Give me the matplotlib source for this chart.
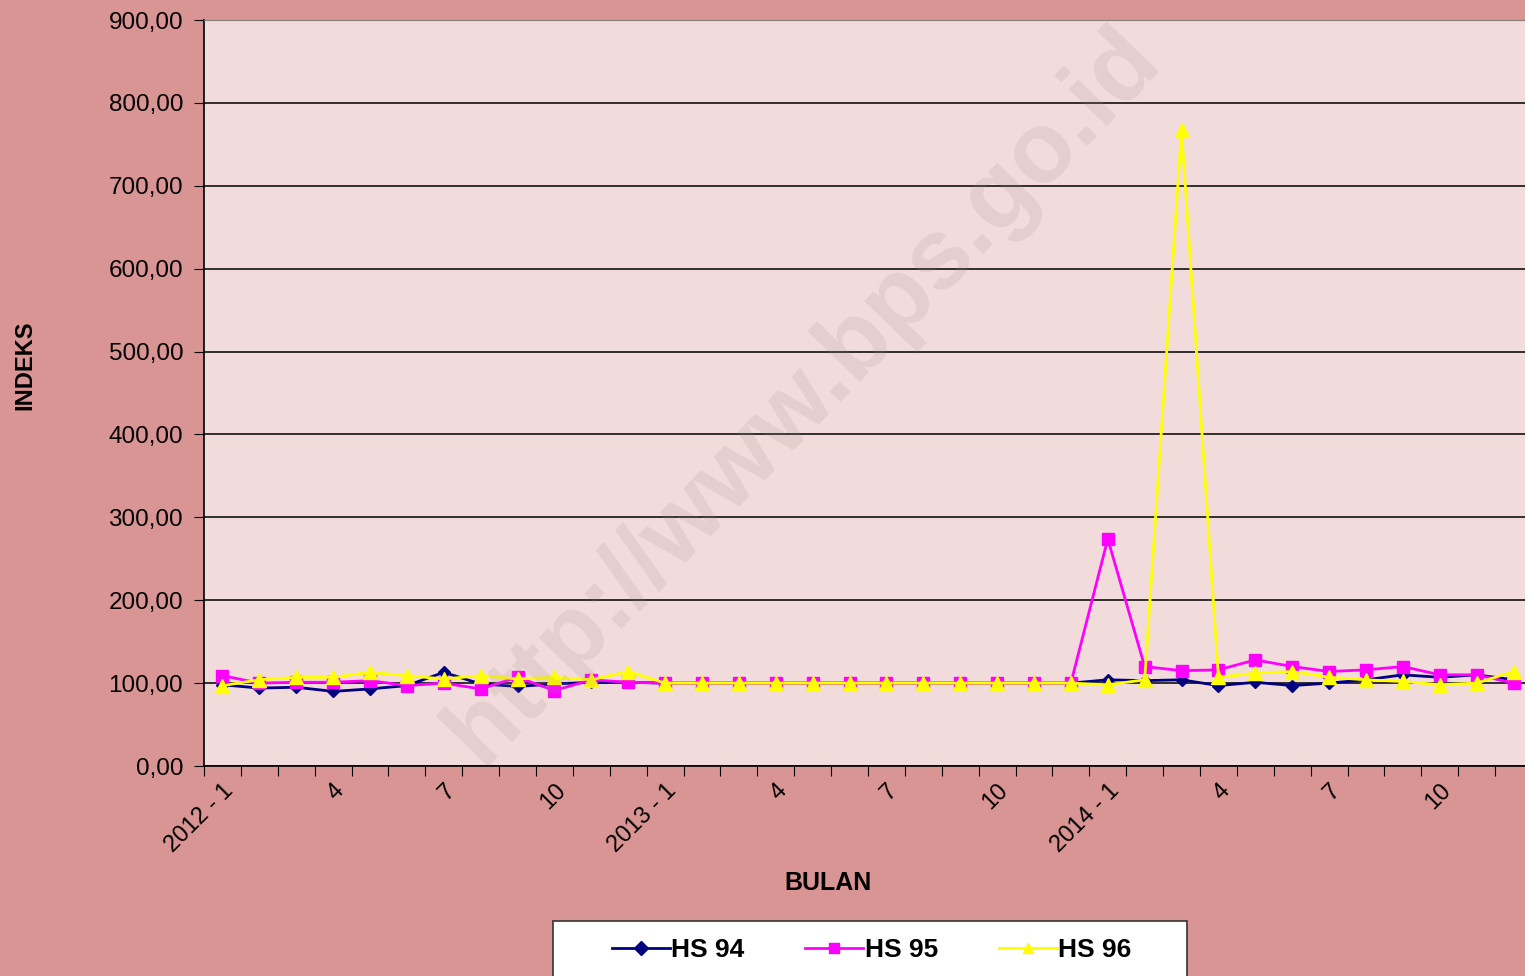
import numpy as np
import matplotlib.pyplot as plt
from matplotlib import font_manager
from matplotlib.patches import Rectangle
from matplotlib.transforms import ScaledTranslation

# data: monthly index 2012-1 .. 2014-12
months = [f"{y} - {m}" if m == 1 else str(m) for y in (2012, 2013, 2014) for m in range(1, 13)]
hs94 = [98, 94, 95, 90, 93, 97, 113, 99, 96, 99, 101, 101,
        100, 100, 100, 100, 100, 100, 100, 100, 100, 100, 100, 100,
        104, 103, 104, 97, 101, 97, 100, 104, 110, 107, 110, 104]
hs95 = [109, 100, 101, 101, 103, 97, 100, 93, 107, 91, 104, 101,
        100, 100, 100, 100, 100, 100, 100, 100, 100, 100, 100, 100,
        274, 120, 115, 116, 128, 120, 114, 116, 120, 110, 110, 100]
hs96 = [97, 104, 107, 107, 113, 109, 105, 109, 105, 107, 104, 114,
        100, 100, 100, 100, 100, 100, 100, 100, 100, 100, 100, 100,
        98, 104, 767, 107, 112, 114, 107, 104, 102, 98, 100, 114]
yticks = np.arange(0, 901, 100)

names = {f.name for f in font_manager.fontManager.ttflist}
narrow = 'Liberation Sans Narrow' if 'Liberation Sans Narrow' in names else 'Liberation Sans'
plt.rcParams['font.family'] = ['Liberation Sans', 'DejaVu Sans']

W, H = 1525, 976
fig = plt.figure(figsize=(W/100, H/100), dpi=100, facecolor='#D99594')
ax = fig.add_axes([204/W, 1-766/H, 1328/W, 746/H])
ax.set_facecolor('#F2DCDB')

x = np.arange(len(months))
ax.plot(x, hs94, color='#000080', lw=2, marker='D', ms=6.5, label='HS 94', zorder=3)
ax.plot(x, hs95, color='#FF00FF', lw=2, marker='s', ms=9, label='HS 95', zorder=4)
ax.plot(x, hs96, color='#FFFF00', lw=2, marker='^', ms=10, label='HS 96', zorder=5)

ax.set_xlim(-0.5, len(months) - 0.5)
ax.set_ylim(0, 900)
ax.set_yticks(yticks)
ax.set_yticklabels([f"{v:.2f}".replace('.', ',') for v in yticks], fontsize=17.5)
ax.yaxis.grid(True, color='black', lw=1.1)
ax.set_axisbelow(True)

ax.set_xticks(np.arange(-0.5, len(months), 1))
ax.set_xticklabels([])
ax.set_xticks(x[::3], minor=True)
ax.set_xticklabels(months[::3], minor=True, rotation=45, ha='right',
                   rotation_mode='anchor', fontsize=17)
shift = ScaledTranslation(-10/100, 2/100, fig.dpi_scale_trans)
for lab in ax.get_xticklabels(minor=True):
    lab.set_transform(lab.get_transform() + shift)
ax.tick_params(axis='x', which='major', length=7, color='black')
ax.tick_params(axis='x', which='minor', length=0, pad=10)
ax.tick_params(axis='y', length=7, color='black', pad=8)

for s in ('left', 'bottom'):
    ax.spines[s].set_color('black')
    ax.spines[s].set_linewidth(1.2)
ax.spines['top'].set_color('#808080')
ax.spines['right'].set_visible(False)

fig.text(25/W, 1-365/H, 'INDEKS', rotation=90, ha='center', va='center',
         fontsize=17, fontweight='bold', family=narrow)
fig.text(828/W, 1-883/H, 'BULAN', ha='center', va='center',
         fontsize=18, fontweight='bold', family=narrow)

# watermark
fig.text(803/W, 1-396/H, 'http://www.bps.go.id', rotation=46, ha='center', va='center',
         fontsize=72, fontweight='bold', color='#9A8A8A', alpha=0.16, zorder=1)

# legend box (cut by figure bottom like the original)
fig.patches.append(Rectangle((553/W, 1-990/H), 634/W, 69/H, transform=fig.transFigure,
                             facecolor='white', edgecolor='#333333', lw=1.2, zorder=4))
leg = fig.legend(loc='center left', bbox_to_anchor=(612/W, 1-950/H), ncol=3,
                 frameon=False, handlelength=2.2, handletextpad=0.05, columnspacing=2.3,
                 borderpad=0, borderaxespad=0,
                 prop={'family': narrow, 'weight': 'bold', 'size': 19})
leg.set_zorder(5)
for h in leg.legend_handles:
    h.set_markersize(7)

fig.savefig('out.png', dpi=100, facecolor=fig.get_facecolor())
